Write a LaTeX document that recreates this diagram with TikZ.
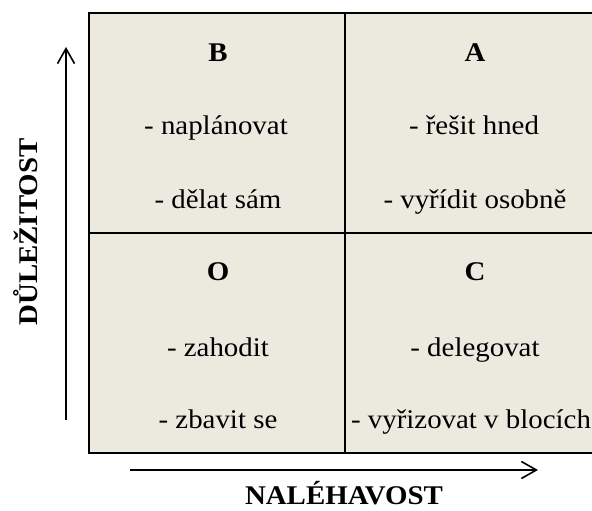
\documentclass[tikz,border=0pt]{standalone}
\usepackage{fontspec}
\setmainfont{Liberation Serif}[FakeStretch=1.07]
\usetikzlibrary{arrows.meta}
\definecolor{paper}{HTML}{ECE9DF}
\tikzstyle{cell} = [rectangle, draw=black, line width=1.8pt, fill=paper, minimum height=220pt, inner sep=0pt]
\tikzstyle{head} = [font=\fontsize{27}{32}\selectfont\bfseries, anchor=base]
\tikzstyle{item} = [font=\fontsize{27}{32}\selectfont, anchor=base]
\tikzstyle{arrow} = [line width=1.6pt, -{Straight Barb[length=15pt,width=17pt,line width=1.6pt]}]

\begin{document}
\begin{tikzpicture}[x=1pt,y=-1pt]
  \useasboundingbox (0,0) rectangle (592,511);
  \clip (0,0) rectangle (592,511);

  % quadrants
  \node (cellB) [cell, minimum width=256pt] at (217,123) {};
  \node (cellA) [cell, minimum width=260pt] at (475,123) {};
  \node (cellO) [cell, minimum width=256pt] at (217,343) {};
  \node (cellC) [cell, minimum width=260pt] at (475,343) {};

  % texts
  \node (headB) [head] at (218,62) {B};
  \node (planB) [item] at (216,135) {- naplánovat};
  \node (selfB) [item] at (218,208) {- dělat sám};

  \node (headA) [head] at (475,62) {A};
  \node (nowA) [item] at (474,135) {- řešit hned};
  \node (ownA) [item] at (475,208) {- vyřídit osobně};

  \node (headO) [head] at (218,280) {O};
  \node (dropO) [item] at (218,356) {- zahodit};
  \node (ridO) [item] at (218,428) {- zbavit se};

  \node (headC) [head] at (475,280) {C};
  \node (delC) [item] at (475,356) {- delegovat};
  \node (blockC) [item] at (471,428) {- vyřizovat v blocích};

  % axes
  \coordinate (ylow) at (66,420);
  \coordinate (yhigh) at (66,47);
  \coordinate (xlow) at (130,470);
  \coordinate (xhigh) at (538,470);
  \draw [arrow] (ylow) -- (yhigh);
  \draw [arrow] (xlow) -- (xhigh);

  \node (importance) [head, anchor=center, rotate=90] at (26,232) {DŮLEŽITOST};
  \node (urgency) [head] at (344,504) {NALÉHAVOST};
\end{tikzpicture}
\end{document}
